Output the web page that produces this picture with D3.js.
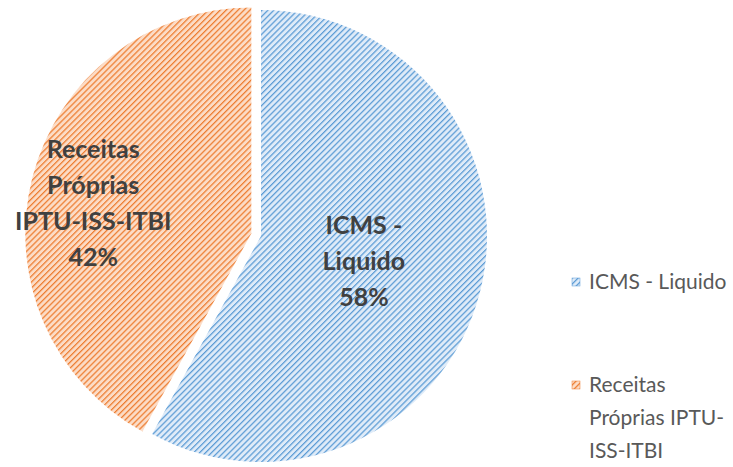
<!DOCTYPE html>
<html>
<head>
<meta charset="utf-8">
<script src="https://cdn.jsdelivr.net/npm/d3@7"></script>
<style>
body { margin: 0; background: #fff; }
svg { display: block; }
</style>
</head>
<body>
<svg id="chart" width="733" height="467"></svg>
<script>
var categories = ["ICMS - Liquido", "Receitas Próprias IPTU-ISS-ITBI"];
var values = [58, 42];
var sliceLabels = [["ICMS -", "Liquido", "58%"], ["Receitas", "Próprias", "IPTU-ISS-ITBI", "42%"]];
var legendLines = [["ICMS - Liquido"], ["Receitas", "Próprias IPTU-", "ISS-ITBI"]];

var fg = ["#5b9bd5", "#ed7d31"];
var bg = ["#dfebf8", "#fcdcc6"];

function drawPie()
{
	var svg = d3.select("#chart");
	var cx = 261, cy = 236, r = 226;
	var explode = [0, 10];
	var labelR = [0.47, 0.712];
	var labelNudge = [0, -0.065];

	var defs = svg.append("defs");
	fg.forEach(function(c, i)
	{
		var p = defs.append("pattern")
			.attr("id", "hatch" + i)
			.attr("patternUnits", "userSpaceOnUse")
			.attr("width", 4.2)
			.attr("height", 4.2)
			.attr("patternTransform", "rotate(45)");
		p.append("rect")
			.attr("width", 4.2)
			.attr("height", 4.2)
			.attr("fill", bg[i]);
		p.append("rect")
			.attr("width", 1.25)
			.attr("height", 4.2)
			.attr("fill", c);
	});

	var pie = d3.pie().sort(null).value(function(d) { return d; });
	var arcs = pie(values);
	var arc = d3.arc().innerRadius(0).outerRadius(r);

	var g = svg.append("g").attr("transform", "translate(" + cx + "," + cy + ")");

	var slices = g.selectAll(".slice")
		.data(arcs)
		.enter()
		.append("g")
		.attr("class", "slice")
		.attr("transform", function(d, i)
		{
			var a = (d.startAngle + d.endAngle) / 2;
			return "translate(" + (Math.sin(a) * explode[i]) + "," + (-Math.cos(a) * explode[i]) + ")";
		});

	slices.append("path")
		.attr("d", arc)
		.attr("fill", function(d, i) { return "url(#hatch" + i + ")"; });

	slices.each(function(d, i)
	{
		var a = (d.startAngle + d.endAngle) / 2 + labelNudge[i];
		var lr = r * labelR[i];
		var lines = sliceLabels[i];
		var lh = 36;
		var x = Math.sin(a) * lr;
		var y = -Math.cos(a) * lr;
		var t = d3.select(this).append("text")
			.attr("text-anchor", "middle")
			.attr("font-family", "Lato, 'Open Sans', sans-serif")
			.attr("font-weight", "bold")
			.attr("font-size", 25)
			.attr("fill", "#404040");
		lines.forEach(function(s, j)
		{
			t.append("tspan")
				.attr("x", x)
				.attr("y", y + (j - (lines.length - 1) / 2) * lh + 8)
				.text(s);
		});
	});

	// legend
	var legendY = [282, 385];
	var leg = svg.append("g");
	categories.forEach(function(c, i)
	{
		leg.append("rect")
			.attr("x", 572)
			.attr("y", legendY[i] - 4)
			.attr("width", 8)
			.attr("height", 8)
			.attr("fill", "url(#hatch" + i + ")")
			.attr("stroke", fg[i])
			.attr("stroke-width", 0.5);
		var t = leg.append("text")
			.attr("font-family", "Lato, 'Open Sans', sans-serif")
			.attr("font-size", 21)
			.attr("fill", "#595959");
		legendLines[i].forEach(function(s, j)
		{
			t.append("tspan")
				.attr("x", 589)
				.attr("y", legendY[i] + 7 + j * 33)
				.text(s);
		});
	});
}

drawPie();
</script>
</body>
</html>
